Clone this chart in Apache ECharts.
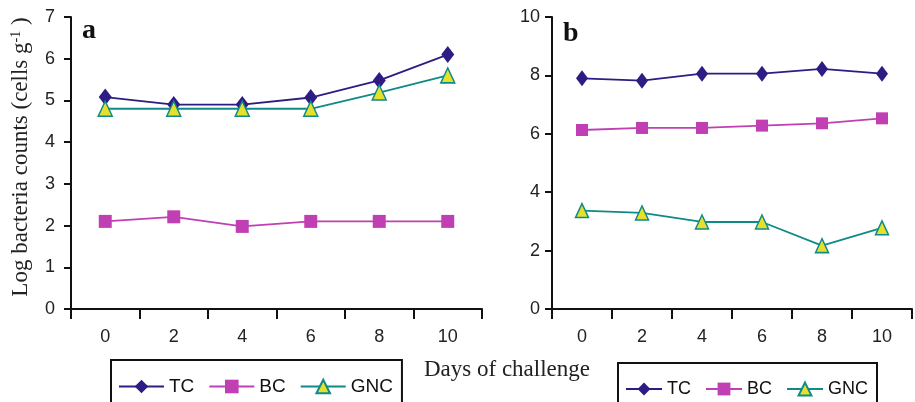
<!DOCTYPE html>
<html><head><meta charset="utf-8">
<script src="https://cdn.jsdelivr.net/npm/echarts@6/dist/echarts.min.js"></script>
<style>html,body{margin:0;padding:0;background:#fff}#c{width:915px;height:402px}</style>
</head><body><div id="c"></div>
<script>
const days = ['0', '2', '4', '6', '8', '10'];
const seriesNames = ['TC', 'BC', 'GNC'];
const tcA = [5.08, 4.9, 4.9, 5.07, 5.48, 6.1];
const bcA = [2.1, 2.21, 1.98, 2.1, 2.1, 2.1];
const gncA = [4.8, 4.8, 4.8, 4.8, 5.19, 5.6];
const tcB = [7.9, 7.82, 8.06, 8.06, 8.22, 8.06];
const bcB = [6.13, 6.2, 6.2, 6.28, 6.36, 6.53];
const gncB = [3.37, 3.29, 2.98, 2.98, 2.17, 2.78];
const yRangeA = [0, 7, 1];
const yRangeB = [0, 10, 2];

const C_TC = '#2E1C84', C_BC = '#C040B4', C_GNC = '#0E8A88', C_Y = '#E6E02A';
const SANS = '"Liberation Sans", Arial, sans-serif';
const SERIF = '"Liberation Serif", "Times New Roman", serif';

function xAx(gi) {
  return {
    type: 'category', gridIndex: gi, data: days, boundaryGap: true,
    axisLine: { lineStyle: { color: '#111', width: 2 } },
    axisTick: { show: true, length: 10, alignWithLabel: false, lineStyle: { color: '#111', width: 2 } },
    axisLabel: { color: '#222', fontSize: 18, fontFamily: SANS, margin: 19 },
    splitLine: { show: false }
  };
}
function yAx(gi, r, margin) {
  return {
    type: 'value', gridIndex: gi, min: r[0], max: r[1], interval: r[2],
    axisLine: { show: true, lineStyle: { color: '#111', width: 2 } },
    axisTick: { show: true, length: 7, lineStyle: { color: '#111', width: 2 } },
    axisLabel: { color: '#222', fontSize: 18, fontFamily: SANS, margin: margin },
    splitLine: { show: false }
  };
}
function mk(name, data, gi, big) {
  const base = { name: name, type: 'line', xAxisIndex: gi, yAxisIndex: gi, data: data,
    symbolKeepAspect: false, emphasis: { disabled: true }, z: 3 };
  if (name === 'TC') {
    return Object.assign(base, { symbol: 'diamond', symbolSize: big ? [13, 17] : [12, 16],
      lineStyle: { color: C_TC, width: 1.8 }, itemStyle: { color: C_TC } });
  }
  if (name === 'BC') {
    return Object.assign(base, { symbol: 'rect', symbolSize: big ? 13 : 12,
      lineStyle: { color: C_BC, width: 1.8 }, itemStyle: { color: C_BC } });
  }
  return Object.assign(base, { symbol: 'triangle', symbolSize: big ? [14, 15] : [13, 14],
    lineStyle: { color: C_GNC, width: 1.8 }, itemStyle: { color: C_Y, borderColor: C_GNC, borderWidth: 1.5 } });
}

const chart = echarts.init(document.getElementById('c'), null, { renderer: 'canvas' });
chart.setOption({
  animation: false,
  backgroundColor: '#fff',
  grid: [
    { left: 71, top: 17, width: 411, height: 292 },
    { left: 552, top: 17, width: 360, height: 292 }
  ],
  xAxis: [xAx(0), xAx(1)],
  yAxis: [yAx(0, yRangeA, 16), yAx(1, yRangeB, 12)],
  legend: [
    { data: seriesNames, left: 111, top: 360, orient: 'horizontal',
      itemWidth: 45, itemHeight: 17, itemGap: 14,
      padding: [17, 9, 30, 7], borderColor: '#111', borderWidth: 2,
      textStyle: { fontSize: 19, fontFamily: SANS, color: '#111' }, selectedMode: false },
    { data: seriesNames, left: 618, top: 363, orient: 'horizontal',
      itemWidth: 36, itemHeight: 16, itemGap: 14,
      padding: [17, 9, 30, 7], borderColor: '#111', borderWidth: 2,
      textStyle: { fontSize: 18, fontFamily: SANS, color: '#111' }, selectedMode: false }
  ],
  graphic: [
    { type: 'text', x: 82, y: 31, style: { text: 'a', font: 'bold 28px ' + SERIF, fill: '#111',
      textAlign: 'left', align: 'left', textVerticalAlign: 'middle', verticalAlign: 'middle' } },
    { type: 'text', x: 563, y: 34, style: { text: 'b', font: 'bold 28px ' + SERIF, fill: '#111',
      textAlign: 'left', align: 'left', textVerticalAlign: 'middle', verticalAlign: 'middle' } },
    { type: 'text', x: 507, y: 370, style: { text: 'Days of challenge', font: '23px ' + SERIF, fill: '#222',
      textAlign: 'center', align: 'center', textVerticalAlign: 'middle', verticalAlign: 'middle' } },
    { type: 'text', x: 21, y: 157, rotation: Math.PI / 2,
      style: { text: '{n|Log bacteria counts (cells g}{s|-1}{n| )}', fill: '#222',
        textAlign: 'center', align: 'center', textVerticalAlign: 'middle', verticalAlign: 'middle',
        rich: { n: { fontSize: 23, fontFamily: SERIF, color: '#222' },
                s: { fontSize: 14, fontFamily: SERIF, color: '#222', verticalAlign: 'top' } } } }
  ],
  series: [
    mk('TC', tcA, 0, true), mk('BC', bcA, 0, true), mk('GNC', gncA, 0, true),
    mk('TC', tcB, 1, false), mk('BC', bcB, 1, false), mk('GNC', gncB, 1, false)
  ]
});
</script></body></html>
